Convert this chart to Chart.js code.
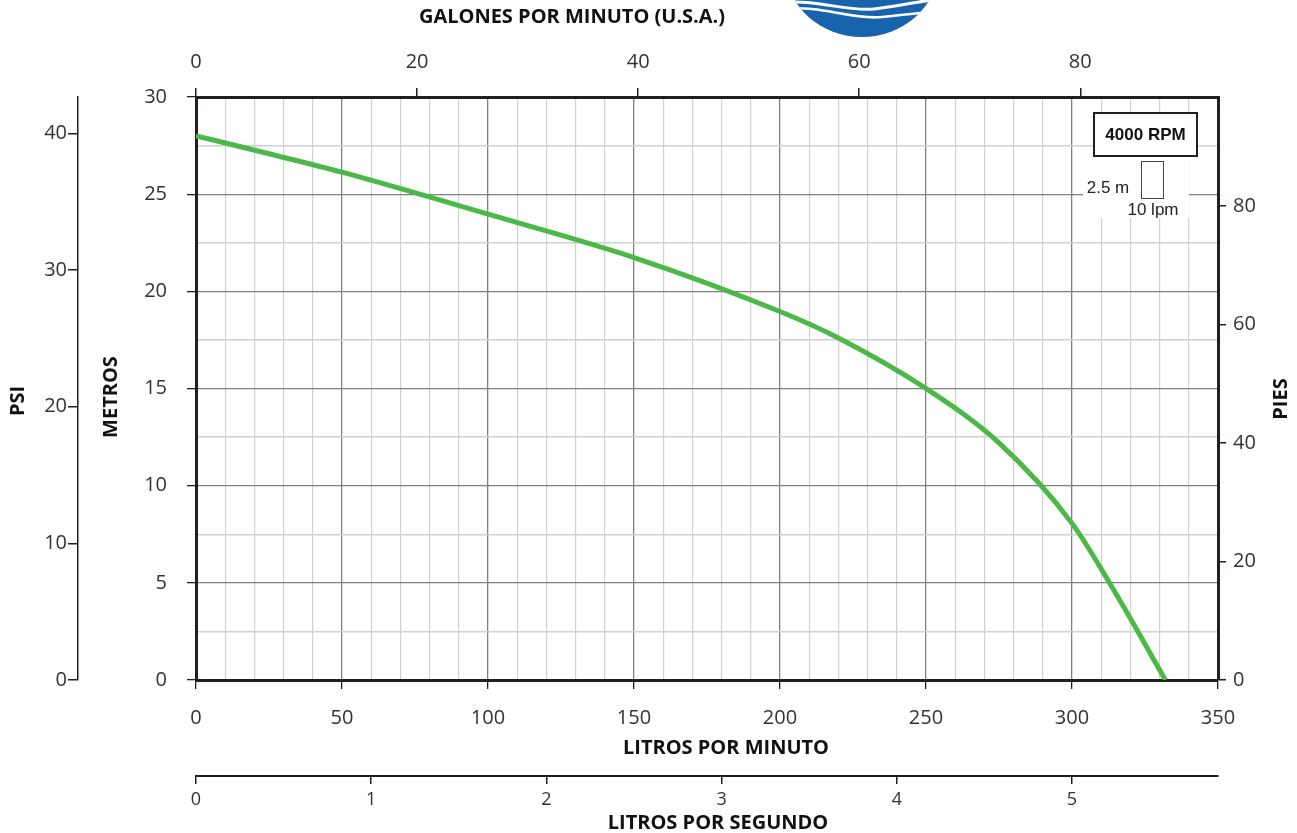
<!DOCTYPE html>
<html>
<head>
<meta charset="utf-8">
<script src="https://cdn.jsdelivr.net/npm/chart.js@4.4.0/dist/chart.umd.min.js"></script>
<style>
  html, body { margin: 0; padding: 0; background: #fff; }
  canvas { display: block; }
</style>
</head>
<body>
<canvas id="pump-curve" width="1297" height="833"></canvas>
<script>
// pump curve (litres per minute -> metres of head)
const flowLpm = [0, 25, 50, 100, 150, 200, 220, 250, 275, 300, 315, 332];
const headM = [28.0, 27.08, 26.13, 23.97, 21.74, 18.96, 17.6, 15.0, 12.2, 8.06, 4.45, 0];

const lpmTicks = [0, 50, 100, 150, 200, 250, 300, 350];
const metrosTicks = [0, 5, 10, 15, 20, 25, 30];
const gpmTicks = [0, 20, 40, 60, 80];
const psiTicks = [0, 10, 20, 30, 40];
const piesTicks = [0, 20, 40, 60, 80];
const lpsTicks = [0, 1, 2, 3, 4, 5];

const LPM_MAX = 350;
const M_MAX = 30;

const frame = '#231f20';
const major = '#808080';
const minor = '#d0d0d0';
const txt = '#333333';
const tickFont = { family: 'Open Sans', size: 20 };
const titleFont = 'bold 20px "Open Sans"';

const steps = (max, step) => Array.from({ length: Math.round(max / step) + 1 }, (_, i) => i * step);
const asTicks = vals => vals.map(v => ({ value: v }));

const decor = {
    id: 'decor',
    afterDraw: (chart) => {
        const ctx = chart.ctx;
        ctx.save();

        // logo, cut by the top edge
        ctx.save();
        ctx.beginPath();
        ctx.ellipse(862, -32, 76, 69, 0, 0, Math.PI * 2);
        ctx.clip();
        ctx.fillStyle = '#1763ad';
        ctx.fillRect(770, 0, 190, 40);
        ctx.strokeStyle = '#ffffff';
        ctx.lineWidth = 3;
        ctx.beginPath();
        ctx.moveTo(780, 3);
        ctx.bezierCurveTo(815, -2, 845, 12, 874, 9);
        ctx.bezierCurveTo(900, 6, 920, 1, 945, -2);
        ctx.stroke();
        ctx.lineWidth = 2.5;
        ctx.beginPath();
        ctx.moveTo(785, 9);
        ctx.bezierCurveTo(820, 5, 852, 20, 882, 17);
        ctx.bezierCurveTo(905, 15, 920, 13, 945, 10);
        ctx.stroke();
        ctx.restore();

        // axis titles
        ctx.fillStyle = '#111';
        ctx.font = titleFont;
        ctx.textAlign = 'center';
        ctx.textBaseline = 'middle';
        ctx.fillText('GALONES POR MINUTO (U.S.A.)', 572, 17);
        ctx.fillText('LITROS POR MINUTO', 726, 748);
        ctx.fillText('LITROS POR SEGUNDO', 718, 823);
        const vTitle = (text, x, y) => {
            ctx.save();
            ctx.translate(x, y);
            ctx.rotate(-Math.PI / 2);
            ctx.fillText(text, 0, 0);
            ctx.restore();
        };
        vTitle('PSI', 18, 401);
        vTitle('METROS', 111, 397);
        vTitle('PIES', 1281, 399);

        // speed box
        ctx.fillStyle = '#fff';
        ctx.fillRect(1083, 157, 106, 61);
        ctx.fillRect(1094, 113, 103, 43);
        ctx.strokeStyle = frame;
        ctx.lineWidth = 2;
        ctx.strokeRect(1094, 113, 103, 43);
        ctx.fillStyle = '#111';
        ctx.font = 'bold 17px "Liberation Sans"';
        ctx.fillText('4000 RPM', 1145.5, 135);

        // scale key
        ctx.strokeStyle = '#444';
        ctx.lineWidth = 1;
        ctx.strokeRect(1141.5, 161.5, 22, 37);
        ctx.font = '17px "Liberation Sans"';
        ctx.fillStyle = '#222';
        ctx.fillText('2.5 m', 1108, 188);
        ctx.fillText('10 lpm', 1153, 210);

        ctx.restore();
    }
};

const ctx = document.getElementById('pump-curve').getContext('2d');
new Chart(ctx, {
    type: 'line',
    data: {
        datasets: [{
            data: flowLpm.map((f, i) => ({ x: f, y: headM[i] })),
            borderColor: '#4cb848',
            borderWidth: 5,
            pointRadius: 0,
            fill: false,
            cubicInterpolationMode: 'monotone',
            xAxisID: 'x',
            yAxisID: 'y'
        }]
    },
    options: {
        responsive: false,
        animation: false,
        devicePixelRatio: 1,
        layout: { padding: 0 },
        plugins: { legend: { display: false }, tooltip: { enabled: false } },
        scales: {
            x: {
                type: 'linear', axis: 'x', position: 'bottom', min: 0, max: LPM_MAX,
                afterBuildTicks: s => { s.ticks = asTicks(steps(LPM_MAX, 10)); },
                ticks: {
                    callback: v => lpmTicks.includes(v) ? v : '',
                    font: tickFont, color: txt, padding: 17, maxRotation: 0, autoSkip: false
                },
                grid: {
                    color: c => lpmTicks.includes(c.tick.value) ? major : minor,
                    lineWidth: c => lpmTicks.includes(c.tick.value) ? 1.3 : 1.2,
                    tickColor: c => lpmTicks.includes(c.tick.value) ? frame : 'rgba(0,0,0,0)',
                    tickLength: 9
                },
                border: { color: frame, width: 3 },
                afterFit: s => { s.height = 96; }
            },
            lps: {
                type: 'linear', axis: 'x', position: 'bottom', min: 0, max: LPM_MAX / 60,
                afterBuildTicks: s => { s.ticks = asTicks(lpsTicks); },
                ticks: { font: { family: 'Open Sans', size: 18 }, color: txt, padding: 5, maxRotation: 0, autoSkip: false },
                grid: { drawOnChartArea: false, tickLength: 8, tickColor: frame, lineWidth: 1.5 },
                border: { color: frame, width: 2 },
                afterFit: s => { s.height = 57; }
            },
            gpm: {
                type: 'linear', axis: 'x', position: 'top', min: 0, max: LPM_MAX / 3.78541,
                afterBuildTicks: s => { s.ticks = asTicks(gpmTicks); },
                ticks: { font: tickFont, color: txt, padding: 14, maxRotation: 0, autoSkip: false },
                grid: { drawOnChartArea: false, tickLength: 9, tickColor: frame, lineWidth: 1.5 },
                border: { color: frame, width: 3 },
                afterFit: s => { s.height = 97; }
            },
            y: {
                type: 'linear', axis: 'y', position: 'left', min: 0, max: M_MAX,
                afterBuildTicks: s => { s.ticks = asTicks(steps(M_MAX, 2.5)); },
                ticks: {
                    callback: v => metrosTicks.includes(v) ? v : '',
                    font: tickFont, color: txt, padding: 20, autoSkip: false
                },
                grid: {
                    color: c => metrosTicks.includes(c.tick.value) ? major : minor,
                    lineWidth: c => metrosTicks.includes(c.tick.value) ? 1.3 : 1.5,
                    tickColor: c => metrosTicks.includes(c.tick.value) ? frame : 'rgba(0,0,0,0)',
                    tickLength: 9
                },
                border: { color: frame, width: 3 },
                afterFit: s => { s.width = 118; }
            },
            psi: {
                type: 'linear', axis: 'y', position: 'left', min: 0, max: M_MAX / 0.70307,
                afterBuildTicks: s => { s.ticks = asTicks(psiTicks); },
                ticks: { font: tickFont, color: txt, padding: 1, autoSkip: false },
                grid: { drawOnChartArea: false, tickLength: 10, tickColor: frame, lineWidth: 1.5 },
                border: { color: frame, width: 1.5 },
                afterFit: s => { s.width = 78; }
            },
            pies: {
                type: 'linear', axis: 'y', position: 'right', min: 0, max: M_MAX / 0.3048,
                afterBuildTicks: s => { s.ticks = asTicks(piesTicks); },
                ticks: { font: tickFont, color: txt, padding: 7, autoSkip: false },
                grid: { drawOnChartArea: false, tickLength: 8, tickColor: frame, lineWidth: 1.5 },
                border: { color: frame, width: 3 },
                afterFit: s => { s.width = 79; }
            }
        }
    },
    plugins: [decor]
});
</script>
</body>
</html>
